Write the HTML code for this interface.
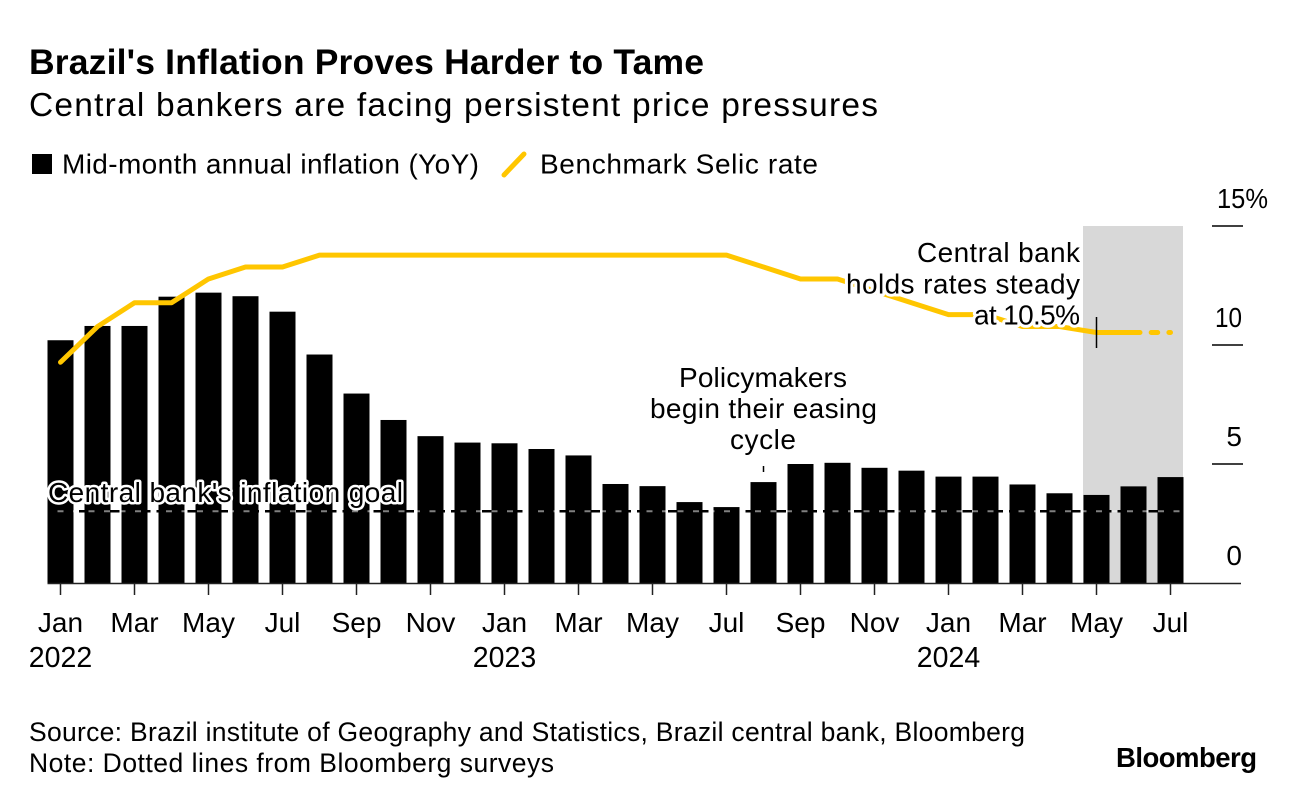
<!DOCTYPE html>
<html lang="en">
<head>
<meta charset="utf-8">
<title>Brazil's Inflation Proves Harder to Tame</title>
<style>
html,body{margin:0;padding:0;background:#fff;}
svg{display:block;}
text{font-family:"Liberation Sans",sans-serif;fill:#000;}
.halo{paint-order:stroke;stroke:#fff;stroke-linejoin:round;}
</style>
</head>
<body>
<svg id="chart" xmlns="http://www.w3.org/2000/svg" width="1296" height="802" viewBox="0 0 1296 802">
  <rect x="0" y="0" width="1296" height="802" fill="#fff"/>
  <text x="29" y="74" font-size="35.5" font-weight="700" textLength="675" lengthAdjust="spacing">Brazil's Inflation Proves Harder to Tame</text>
  <text x="29" y="116" font-size="33.5" textLength="849" lengthAdjust="spacing">Central bankers are facing persistent price pressures</text>

  <rect x="32" y="154" width="20" height="20" fill="#000"/>
  <text x="62" y="173.5" font-size="28" textLength="417" lengthAdjust="spacing">Mid-month annual inflation (YoY)</text>
  <line x1="504" y1="175" x2="524" y2="154" stroke="#ffc600" stroke-width="5" stroke-linecap="round"/>
  <text x="540" y="173.5" font-size="28" textLength="278" lengthAdjust="spacing">Benchmark Selic rate</text>

  <rect x="1083" y="226" width="100" height="357" fill="#d8d8d8"/>
  <g id="y-grid"></g>
  <g id="bars"></g>
  <g id="goal"></g>
  <g id="selic"></g>
  <g id="x-axis"></g>

  <line x1="1096.5" y1="317" x2="1096.5" y2="348" stroke="#000" stroke-width="1.5"/>
  <line x1="763.5" y1="466" x2="763.5" y2="472" stroke="#000" stroke-width="1.5"/>

  <g font-size="28">
    <text class="halo" stroke-width="6" x="917" y="262" textLength="163" lengthAdjust="spacing">Central bank</text>
    <text class="halo" stroke-width="6" x="846" y="293.5" textLength="234" lengthAdjust="spacing">holds rates steady</text>
    <text class="halo" stroke-width="6" x="974" y="324.5" textLength="106" lengthAdjust="spacing">at 10.5%</text>
  </g>
  <g font-size="28">
    <text x="679" y="387" textLength="168" lengthAdjust="spacing">Policymakers</text>
    <text x="650" y="418" textLength="227" lengthAdjust="spacing">begin their easing</text>
    <text x="730" y="449" textLength="66" lengthAdjust="spacing">cycle</text>
  </g>
  <text class="halo" stroke-width="5" x="48" y="502" font-size="28" textLength="355" lengthAdjust="spacing">Central bank's inflation goal</text>

  <text x="29" y="741" font-size="26.5" textLength="996" lengthAdjust="spacing">Source: Brazil institute of Geography and Statistics, Brazil central bank, Bloomberg</text>
  <text x="29" y="772" font-size="26.5" textLength="525" lengthAdjust="spacing">Note: Dotted lines from Bloomberg surveys</text>
  <text x="1116" y="767" font-size="27.5" font-weight="700" textLength="141" lengthAdjust="spacing">Bloomberg</text>
</svg>
<script>
const months = ["Jan","Feb","Mar","Apr","May","Jun","Jul","Aug","Sep","Oct","Nov","Dec",
                "Jan","Feb","Mar","Apr","May","Jun","Jul","Aug","Sep","Oct","Nov","Dec",
                "Jan","Feb","Mar","Apr","May","Jun","Jul"];
const years = ["2022","","","","","","","","","","","",
               "2023","","","","","","","","","","","",
               "2024","","","","","","",""];
const inflation = [10.2,10.8,10.8,12.03,12.2,12.05,11.4,9.6,7.96,6.85,6.17,5.9,
                   5.87,5.63,5.36,4.16,4.07,3.4,3.19,4.24,5.0,5.05,4.84,4.72,
                   4.47,4.47,4.14,3.77,3.7,4.06,4.45];
const selic = [9.25,10.75,11.75,11.75,12.75,13.25,13.25,13.75,13.75,13.75,13.75,13.75,
               13.75,13.75,13.75,13.75,13.75,13.75,13.75,13.25,12.75,12.75,12.25,11.75,
               11.25,11.25,10.75,10.75,10.5,10.5,10.5];
const firstSurveyIndex = 29;
const inflationGoal = [3];
const yTicks = [0,5,10,15];
const yTickLabels = ["0","5","10","15%"];

const NS = "http://www.w3.org/2000/svg";
const xScale = function(i){ return 60.5 + 37 * i; };
const yScale = function(v){ return 583 - 23.8 * v; };
const BAR_W = 26;

function mk(tag, parent, attrs){
  const el = document.createElementNS(NS, tag);
  for (const k in attrs) el.setAttribute(k, attrs[k]);
  parent.appendChild(el);
  return el;
}

const barsG = document.getElementById("bars");
inflation.forEach(function(v, i){
  const r = mk("rect", barsG, {x: xScale(i) - BAR_W / 2, y: yScale(v), width: BAR_W, height: yScale(0) - yScale(v), fill: "#000"});
  
  
});

const gridG = document.getElementById("y-grid");
yTicks.forEach(function(t, i){
  if (t !== 0) {
    const l = mk("line", gridG, {x1: 1212, x2: 1243, y1: yScale(t), y2: yScale(t), stroke: "#000", "stroke-width": 1.5});
    
    
  }
  const lab = yTickLabels[i];
  const isPct = lab.indexOf("%") >= 0;
  const isTwo = lab.length === 2;
  const tx = mk("text", gridG, {x: isPct ? 1217 : (isTwo ? 1215 : 1242), y: yScale(t) - 18, "font-size": 28, "text-anchor": (isPct || isTwo) ? "start" : "end"});
  
  
  if (isPct || isTwo) {
    tx.setAttribute("textLength", isPct ? 51 : 27);
    tx.setAttribute("lengthAdjust", "spacingAndGlyphs");
  }
  tx.textContent = lab;
});

const goalG = document.getElementById("goal");
const goalY = yScale(inflationGoal[0]) - 0.3;
const goalUnder = mk("line", goalG, {x1: 48, x2: 1183, y1: goalY, y2: goalY, stroke: "rgba(255,255,255,0.5)", "stroke-width": 2});


const goalLine = mk("line", goalG, {x1: 48, x2: 1183, y1: goalY, y2: goalY, stroke: "#000", "stroke-width": 2.5, "stroke-dasharray": "9.5 6"});



const selicG = document.getElementById("selic");
function pts(from, to){
  const out = [];
  for (let i = from; i <= to; i++) out.push(xScale(i) + "," + (yScale(selic[i]) - 0.6));
  return out.join(" ");
}
const actual = mk("polyline", selicG, {points: pts(0, firstSurveyIndex), fill: "none", stroke: "#ffc600", "stroke-width": 5, "stroke-linecap": "round", "stroke-linejoin": "round"});


const survey = mk("polyline", selicG, {points: pts(firstSurveyIndex, selic.length - 1), fill: "none", stroke: "#ffc600", "stroke-width": 5, "stroke-linecap": "round", "stroke-linejoin": "round", "stroke-dasharray": "6.5 11.2"});



const xG = document.getElementById("x-axis");
const axis = mk("line", xG, {x1: 47.5, x2: 1241, y1: 583.5, y2: 583.5, stroke: "#222", "stroke-width": 1.6});


months.forEach(function(m, i){
  if (i % 2 !== 0) return;
  const t = mk("line", xG, {x1: xScale(i), x2: xScale(i), y1: 584, y2: 595, stroke: "#222", "stroke-width": 1.5});
  
  
  const lab = mk("text", xG, {x: xScale(i), y: 632, "font-size": 28, "text-anchor": "middle"});
  
  
  lab.textContent = m;
  if (years[i]) {
    const yr = mk("text", xG, {x: xScale(i), y: 667, "font-size": 28.5, "text-anchor": "middle"});
    
    
    yr.textContent = years[i];
  }
});
</script>
</body>
</html>
